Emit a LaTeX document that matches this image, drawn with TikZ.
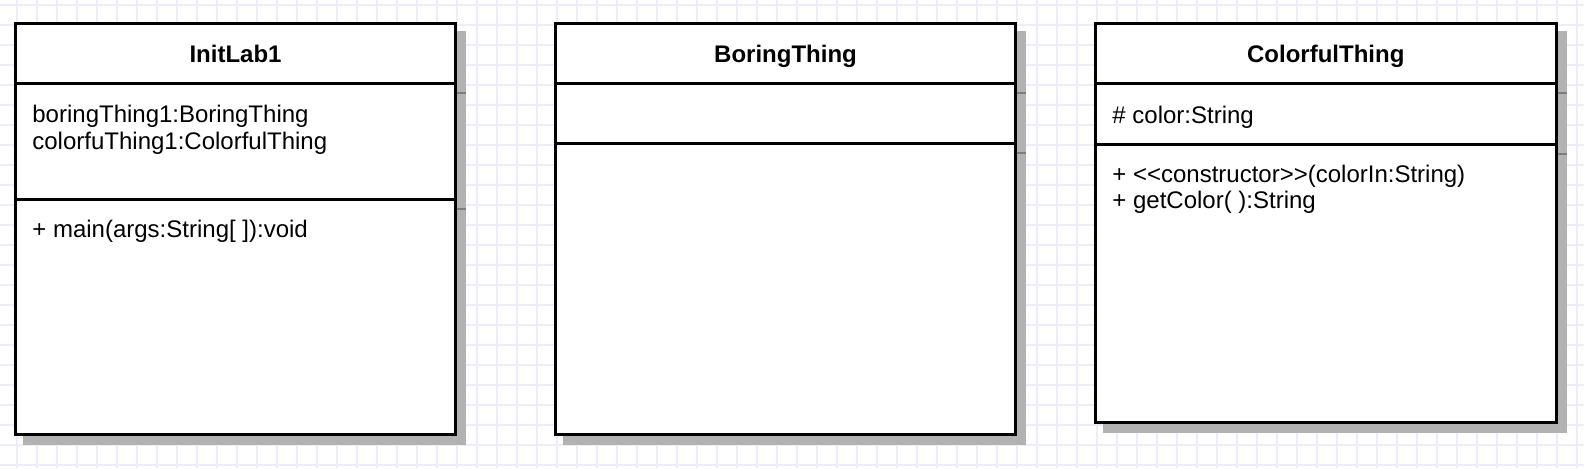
\documentclass[tikz,border=0pt]{standalone}
\usepackage{fontspec}
\setmainfont{Liberation Sans}
\definecolor{gridc}{RGB}{236,236,253}
\definecolor{shadowc}{RGB}{178,178,178}
\definecolor{shadowline}{RGB}{125,125,125}
\begin{document}
\begin{tikzpicture}[x=0.5pt,y=-0.5pt,
 classbox/.style={draw=black, fill=white, line width=1.5pt, anchor=north west, inner sep=0pt, outer sep=0pt},
 shadowbox/.style={fill=shadowc, anchor=north west, inner sep=0pt, outer sep=0pt},
 sepline/.style={draw=black, line width=1.5pt},
 shsep/.style={draw=shadowline, line width=1pt},
 gridline/.style={draw=gridc, line width=0.75pt},
 ttl/.style={font=\bfseries\fontsize{12}{13.5}\selectfont, anchor=base, inner sep=0pt},
 mem/.style={font=\fontsize{12}{13.5}\selectfont, anchor=base west, inner sep=0pt}]
\useasboundingbox (0,0) rectangle (1584,468);
\fill[white] (0,0) rectangle (1584,468);
\foreach \gx in {17,37,...,1577} \draw[gridline] (\gx,0) -- (\gx,468);
\foreach \gy in {5,25,...,465} \draw[gridline] (0,\gy) -- (1584,\gy);

% shadows
\node[shadowbox, minimum width=221.5pt, minimum height=207pt] (s1) at (23,31) {};
\node[shadowbox, minimum width=231.5pt, minimum height=207pt] (s2) at (563,31) {};
\node[shadowbox, minimum width=231.75pt, minimum height=201pt] (s3) at (1103,31) {};

% boxes
\node[classbox, minimum width=220pt, minimum height=205.5pt] (c1) at (15.5,23.5) {};
\node[classbox, minimum width=230pt, minimum height=205.5pt] (c2) at (555.5,23.5) {};
\node[classbox, minimum width=230.25pt, minimum height=199.5pt] (c3) at (1095.5,23.5) {};

% shadow separator marks
\draw[shsep] ([xshift=0.75pt]c1.east |- 0,93) -- (s1.east |- 0,93);
\draw[shsep] ([xshift=0.75pt]c1.east |- 0,209) -- (s1.east |- 0,209);
\draw[shsep] ([xshift=0.75pt]c2.east |- 0,93) -- (s2.east |- 0,93);
\draw[shsep] ([xshift=0.75pt]c2.east |- 0,153) -- (s2.east |- 0,153);
\draw[shsep] ([xshift=0.75pt]c3.east |- 0,93) -- (s3.east |- 0,93);
\draw[shsep] ([xshift=0.75pt]c3.east |- 0,154) -- (s3.east |- 0,154);

% separators
\draw[sepline] (c1.west |- 0,83) -- (c1.east |- 0,83);
\draw[sepline] (c1.west |- 0,199) -- (c1.east |- 0,199);
\draw[sepline] (c2.west |- 0,83) -- (c2.east |- 0,83);
\draw[sepline] (c2.west |- 0,143) -- (c2.east |- 0,143);
\draw[sepline] (c3.west |- 0,83) -- (c3.east |- 0,83);
\draw[sepline] (c3.west |- 0,144) -- (c3.east |- 0,144);

% texts
\node[ttl] (t1) at (235.5,62) {InitLab1};
\node[ttl] (t2) at (785.5,62) {BoringThing};
\node[ttl] (t3) at (1325.75,62) {ColorfulThing};

\node[mem] (a11) at (32,122) {boringThing1:BoringThing};
\node[mem] (a12) at (32,149) {colorfuThing1:ColorfulThing};
\node[mem] (m11) at (32,237) {+ main(args:String[ ]):void};

\node[mem] (a31) at (1112,123) {\# color:String};
\node[mem] (m31) at (1112,182) {+ <\kern0pt<constructor>\kern0pt>(colorIn:String)};
\node[mem] (m32) at (1112,208) {+ getColor( ):String};
\end{tikzpicture}
\end{document}
